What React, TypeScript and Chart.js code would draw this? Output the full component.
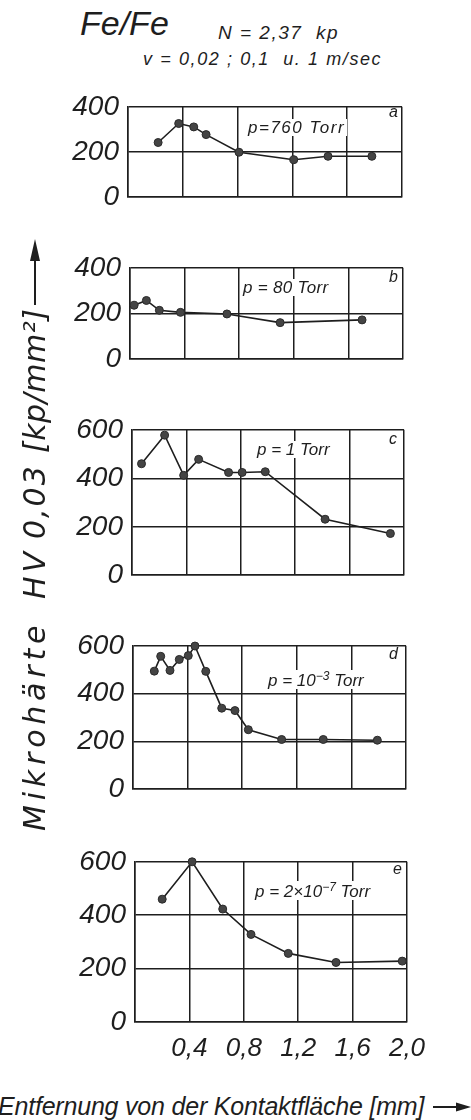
import React, { useEffect, useRef } from 'react';
import { Chart, registerables } from 'chart.js';
Chart.register(...registerables);

// ---- data ----
const xTicks = [0, 0.4, 0.8, 1.2, 1.6, 2.0];
const yTicks400 = [0, 200, 400];
const yTicks600 = [0, 200, 400, 600];

const xA = [0.22, 0.37, 0.48, 0.57, 0.81, 1.21, 1.46, 1.78];
const yA = [242, 326, 311, 277, 199, 166, 181, 181];

const xB = [0.03, 0.12, 0.215, 0.37, 0.71, 1.1, 1.7];
const yB = [236, 257, 214, 205, 198, 160, 172];

const xC = [0.07, 0.24, 0.38, 0.49, 0.71, 0.81, 0.98, 1.42, 1.9];
const yC = [460, 578, 412, 478, 424, 424, 427, 231, 172];

const xD = [0.156, 0.203, 0.271, 0.339, 0.405, 0.454, 0.533, 0.65, 0.747, 0.845, 1.089, 1.394, 1.79];
const yD = [494, 556, 497, 543, 559, 599, 493, 339, 329, 249, 208, 208, 205];

const xE = [0.2, 0.42, 0.645, 0.853, 1.127, 1.478, 1.965];
const yE = [460, 600, 423, 328, 257, 223, 228];

const FONT = "'Liberation Sans', Arial, sans-serif";
const FONT2 = "'DejaVu Sans', sans-serif";
const INK = '#1e1e1e';
const CL = 40;
const PAGE_W = 471;
const PT = 24;

type PanelProps = {
  xs: number[];
  ys: number[];
  yTicks: number[];
  L: number; R: number; T: number; B: number;
  showX: boolean;
};

function Panel({ xs, ys, yTicks, L, R, T, B, showX }: PanelProps) {
  const ref = useRef<HTMLCanvasElement | null>(null);
  const PB = showX ? 50 : 10;
  const top = T - PT;
  const h = B - top + PB;
  const w = PAGE_W - CL;
  useEffect(() => {
    if (!ref.current) return;
    const chart = new Chart(ref.current, {
      type: 'line',
      data: {
        datasets: [{
          data: xs.map((x, i) => ({ x, y: ys[i] })),
          borderColor: INK,
          borderWidth: 1.6,
          pointRadius: 4,
          pointBackgroundColor: '#444',
          pointBorderColor: '#2a2a2a',
          pointBorderWidth: 1,
          tension: 0,
          clip: false as any,
        }],
      },
      options: {
        animation: false,
        responsive: false,
        maintainAspectRatio: false,
        layout: { padding: { top: PT, right: PAGE_W - R, left: 0, bottom: 0 } },
        plugins: { legend: { display: false }, tooltip: { enabled: false } },
        scales: {
          x: {
            type: 'linear',
            min: 0,
            max: 2,
            afterBuildTicks: (s: any) => { s.ticks = xTicks.map((v) => ({ value: v })); },
            afterFit: (s: any) => { s.height = PB; },
            grid: { color: INK, lineWidth: 1.5, drawTicks: false },
            border: { color: INK, width: 1.5 },
            ticks: {
              display: showX,
              padding: 11,
              color: INK,
              font: { family: FONT, style: 'italic', size: 26 },
              callback: (v: any) => (Number(v) === 0 ? '' : Number(v).toFixed(1).replace('.', ',')),
            },
          },
          y: {
            type: 'linear',
            min: 0,
            max: yTicks[yTicks.length - 1],
            afterBuildTicks: (s: any) => { s.ticks = yTicks.map((v) => ({ value: v })); },
            afterFit: (s: any) => { s.width = L - CL; },
            grid: { color: INK, lineWidth: 1.5, drawTicks: false },
            border: { color: INK, width: 1.5 },
            ticks: {
              padding: 9,
              color: INK,
              font: { family: FONT, style: 'italic', size: 28 },
              callback: (v: any) => String(v),
            },
          },
        },
      } as any,
    });
    return () => chart.destroy();
  }, []);
  return (
    <canvas
      ref={ref}
      width={w}
      height={h}
      style={{ position: 'absolute', left: CL, top, width: w, height: h }}
    />
  );
}

function Txt({ x, baseline, size, children, style }: any) {
  return (
    <div
      style={{
        position: 'absolute',
        left: x,
        top: baseline - 0.8465 * size,
        fontFamily: FONT,
        fontStyle: 'italic',
        fontSize: size,
        lineHeight: 1,
        whiteSpace: 'pre',
        color: INK,
        ...style,
      }}
    >
      {children}
    </div>
  );
}

function YPart({ s, ls, children }: any) {
  return (
    <span
      style={{
        position: 'absolute',
        left: s,
        top: 0,
        fontFamily: FONT2,
        fontStyle: 'italic',
        fontSize: 30,
        lineHeight: '34px',
        letterSpacing: ls,
        whiteSpace: 'pre',
        color: INK,
      }}
    >
      {children}
    </span>
  );
}

const ann: React.CSSProperties = { background: '#fff', padding: '0 2px' };

export default function App() {
  return (
    <div style={{ position: 'absolute', left: 0, top: 0, width: 471, height: 1120, background: '#fff', overflow: 'hidden' }}>
      <Panel xs={xA} ys={yA} yTicks={yTicks400} L={128} R={402} T={105} B={213} showX={false} />
      <Panel xs={xB} ys={yB} yTicks={yTicks400} L={130} R={403} T={266} B={375} showX={false} />
      <Panel xs={xC} ys={yC} yTicks={yTicks600} L={132} R={404} T={428} B={591} showX={false} />
      <Panel xs={xD} ys={yD} yTicks={yTicks600} L={133} R={406} T={644} B={805} showX={false} />
      <Panel xs={xE} ys={yE} yTicks={yTicks600} L={135} R={407} T={860} B={1022} showX={true} />

      <Txt x={80} baseline={35} size={34}>Fe/Fe</Txt>
      <Txt x={218} baseline={39} size={19} style={{ letterSpacing: 1.5 }}>N = 2,37  kp</Txt>
      <Txt x={143} baseline={65} size={18} style={{ letterSpacing: 1.6 }}>v = 0,02 ; 0,1  u. 1 m/sec</Txt>

      <Txt x={246} baseline={133.5} size={17} style={{ ...ann, letterSpacing: 1.5 }}>p=760 Torr</Txt>
      <Txt x={241} baseline={293} size={17} style={{ ...ann, letterSpacing: 0.3 }}>p = 80 Torr</Txt>
      <Txt x={255} baseline={455} size={17} style={ann}>p = 1 Torr</Txt>
      <Txt x={266} baseline={684} size={17} style={ann}>p = 10<sup style={{ fontSize: 12, verticalAlign: 6 }}>−3</sup> Torr</Txt>
      <Txt x={253} baseline={895} size={17} style={ann}>p = 2×10<sup style={{ fontSize: 12, verticalAlign: 6 }}>−7</sup> Torr</Txt>

      <Txt x={389} baseline={118} size={16}>a</Txt>
      <Txt x={389} baseline={283} size={16}>b</Txt>
      <Txt x={389} baseline={445} size={16}>c</Txt>
      <Txt x={389} baseline={660} size={16}>d</Txt>
      <Txt x={393} baseline={875} size={16}>e</Txt>

      {/* y axis title, rotated: s = 835 - pageY */}
      <div
        style={{
          position: 'absolute',
          left: 35 - 298,
          top: 537 - 17,
          width: 596,
          height: 34,
          transform: 'rotate(-90deg)',
          transformOrigin: '50% 50%',
        }}
      >
        <YPart s={4} ls={4.8}>Mikrohärte</YPart>
        <YPart s={236} ls={4}>HV</YPart>
        <YPart s={296} ls={2}>0,03</YPart>
        <YPart s={382} ls={0.5}>[kp/mm²]</YPart>
        <svg style={{ position: 'absolute', left: 530, top: 0, width: 66, height: 34 }} viewBox="0 0 66 34">
          <line x1="0" y1="17" x2="48" y2="17" stroke={INK} strokeWidth="2" />
          <polygon points="44,12 66,17 44,22" fill={INK} />
        </svg>
      </div>

      {/* x axis title */}
      <Txt x={-2} baseline={1115} size={25} style={{ letterSpacing: -0.2 }}>Entfernung von der Kontaktfläche [mm]</Txt>
      <svg style={{ position: 'absolute', left: 433, top: 1100, width: 38, height: 14 }} viewBox="0 0 38 14">
        <line x1="0" y1="7" x2="26" y2="7" stroke={INK} strokeWidth="2" />
        <polygon points="23,2.5 38,7 23,11.5" fill={INK} />
      </svg>
    </div>
  );
}
